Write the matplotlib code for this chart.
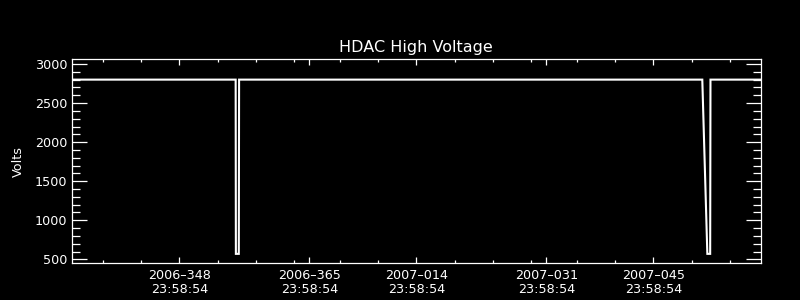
import matplotlib
matplotlib.use("Agg")
import matplotlib.pyplot as plt
from matplotlib.ticker import FixedLocator, MultipleLocator

# ---- data (x in days since 2006-348 23:58:54) ----
time_days = [-14.03, 7.37, 7.40, 7.78, 7.82, 68.39, 69.05, 69.42, 69.46, 76.03]
volts = [2800, 2800, 570, 570, 2800, 2800, 570, 570, 2800, 2800]

major_days = [0, 17, 31, 48, 62]
major_labels = ["2006–348\n23:58:54", "2006–365\n23:58:54", "2007–014\n23:58:54",
                "2007–031\n23:58:54", "2007–045\n23:58:54"]
minor_days = [-10, -5, 5, 10, 15, 21, 26, 36, 41, 46, 52, 57, 67, 72]
x_range = (-14.03, 76.03)
y_range = (449, 3060)
y_major = [500, 1000, 1500, 2000, 2500, 3000]

title = "HDAC High Voltage"
ylabel = "Volts"

fig = plt.figure(figsize=(8, 3), dpi=100, facecolor="black")
ax = fig.add_axes([0.09, 0.1223, 0.8609, 0.68])
ax.set_facecolor("black")

ax.plot(time_days, volts, color="white", lw=1.5, solid_joinstyle="miter")

ax.set_xlim(*x_range)
ax.set_ylim(*y_range)
ax.xaxis.set_major_locator(FixedLocator(major_days))
ax.set_xticklabels(major_labels)
ax.xaxis.set_minor_locator(FixedLocator(minor_days))
ax.yaxis.set_major_locator(FixedLocator(y_major))
ax.yaxis.set_minor_locator(MultipleLocator(100))

for s in ax.spines.values():
    s.set_color("white")
    s.set_linewidth(0.9)

ax.tick_params(axis="both", which="both", direction="in", colors="white",
               top=True, right=True, width=0.9, labelsize=9.2)
ax.tick_params(axis="y", which="major", length=10.6, pad=3.4)
ax.tick_params(axis="y", which="minor", length=5.8)
ax.tick_params(axis="x", which="major", length=4.3, pad=4)
ax.tick_params(axis="x", which="minor", length=2.2)
for lab in ax.get_xticklabels():
    lab.set_linespacing(1.1)

ax.set_title(title, color="white", fontsize=11.5, pad=5)
ax.set_ylabel(ylabel, color="white", fontsize=9.2, labelpad=7)

fig.savefig("out.png", dpi=100, facecolor="black")
